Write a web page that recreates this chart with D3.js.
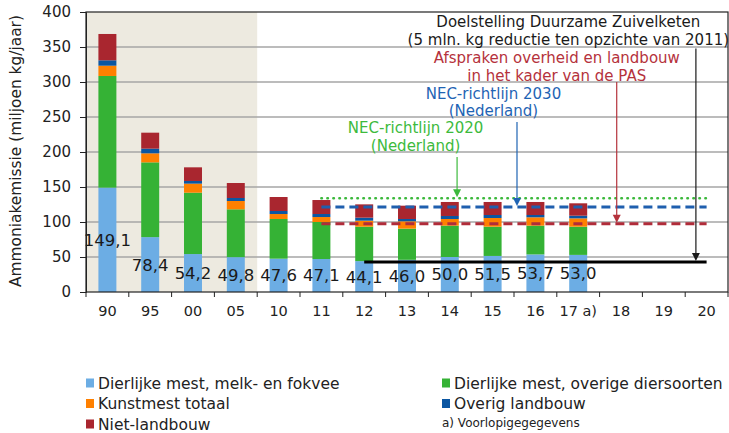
<!DOCTYPE html>
<html lang="nl">
<head>
<meta charset="UTF-8">
<title>Ammoniakemissie</title>
<script src="https://d3js.org/d3.v7.min.js"></script>
<style>
  body { margin: 0; background: #fff; }
  text { font-family: "DejaVu Sans", Verdana, sans-serif; }
  .tick text { fill: #222; }
  .vlabel { font-size: 16.5px; fill: #1a1a1a; text-anchor: middle; }
  .note { font-size: 15px; text-anchor: middle; }
  .legend text { font-size: 15.5px; fill: #222; }
</style>
</head>
<body>
<svg width="729" height="433"></svg>
<script>
const years = ["90", "95", "00", "05", "10", "11", "12", "13", "14", "15", "16", "17 a)", "18", "19", "20"];
const melkFokvee = [149.1, 78.4, 54.2, 49.8, 47.6, 47.1, 44.1, 46.0, 50.0, 51.5, 53.7, 53.0];
const overigeDieren = [159.5, 106.8, 87.7, 68.3, 56.7, 52.9, 49.2, 44.5, 44.8, 41.8, 41.1, 40.3];
const kunstmest = [14.7, 12.9, 12.9, 11.9, 7.1, 7.1, 8.6, 10.5, 9.5, 12.4, 11.9, 11.9];
const overigLandbouw = [7.7, 6.7, 3.8, 4.3, 4.3, 4.3, 4.3, 3.3, 4.3, 4.3, 3.3, 3.8];
const nietLandbouw = [37.6, 22.8, 19.5, 21.4, 20.0, 20.0, 19.0, 19.0, 20.0, 18.6, 18.6, 17.7];

const seriesNames = ["Dierlijke mest, melk- en fokvee", "Dierlijke mest, overige diersoorten",
  "Kunstmest totaal", "Overig landbouw", "Niet-landbouw"];
const seriesColors = ["#6cade4", "#35b235", "#ff8000", "#0b56a2", "#a9262f"];
const yTicks = [0, 50, 100, 150, 200, 250, 300, 350, 400];

// streefwaarden: waarde, van jaar, tot jaar
const targets = [
  { name: "NEC 2020", value: 134, from: "11", to: "20", color: "#3cb83c", dash: "0.5,5.5", cap: "round", w: 2.6 },
  { name: "NEC 2030", value: 121.5, from: "11", to: "20", color: "#1f5fae", dash: "9,5", cap: "butt", w: 3 },
  { name: "PAS", value: 97.5, from: "11", to: "20", color: "#b02c3a", dash: "9,5", cap: "butt", w: 3 },
  { name: "Zuivelketen", value: 43, from: "12", to: "20", color: "#000", dash: null, cap: "butt", w: 3 }
];

const width = 729, height = 433;
const m = { left: 86, right: 1, top: 12, bottom: 141 };
const pw = width - m.left - m.right, ph = height - m.top - m.bottom;
const svg = d3.select("svg");
const g = svg.append("g").attr("transform", `translate(${m.left},${m.top})`);

const x = d3.scaleBand().domain(years).range([0, pw]).paddingInner(0.58).paddingOuter(0.29);
const xi = d3.scaleLinear().domain([0, years.length]).range([0, pw]);
const y = d3.scaleLinear().domain([0, 400]).range([ph, 0]);

// gearceerde periode
g.append("rect").attr("x", xi(0)).attr("y", 0).attr("width", xi(4) - xi(0)).attr("height", ph)
  .attr("fill", "#edeae0");

// rasterlijnen
g.selectAll(".grid").data(yTicks.slice(1, -1)).enter().append("line")
  .attr("x1", 0).attr("x2", pw).attr("y1", d => y(d)).attr("y2", d => y(d))
  .attr("stroke", "#a6a6a6").attr("stroke-width", 1.3);

// gestapelde staven
const rows = melkFokvee.map((v, i) => ({
  year: years[i], s0: v, s1: overigeDieren[i], s2: kunstmest[i], s3: overigLandbouw[i], s4: nietLandbouw[i]
}));
const stack = d3.stack().keys(["s0", "s1", "s2", "s3", "s4"])(rows);
stack.forEach((layer, k) => {
  g.selectAll(".b" + k).data(layer).enter().append("rect")
    .attr("x", d => x(d.data.year)).attr("width", x.bandwidth())
    .attr("y", d => y(d[1])).attr("height", d => y(d[0]) - y(d[1]))
    .attr("fill", seriesColors[k]);
});

// streeflijnen
targets.forEach(t => {
  g.append("line")
    .attr("x1", x(t.from) + x.bandwidth() / 2).attr("x2", x(t.to) + x.bandwidth() / 2)
    .attr("y1", y(t.value)).attr("y2", y(t.value))
    .attr("stroke", t.color).attr("stroke-width", t.w)
    .attr("stroke-dasharray", t.dash).attr("stroke-linecap", t.cap);
});

// waardelabels melk- en fokvee
g.selectAll(".vlabel").data(rows).enter().append("text").attr("class", "vlabel")
  .attr("x", d => x(d.year) + x.bandwidth() / 2).attr("y", d => y(d.s0 / 2))
  .attr("dy", "0.36em").text(d => d.s0.toFixed(1).replace(".", ","));

// kader
g.append("rect").attr("x", 0).attr("y", 0).attr("width", pw).attr("height", ph)
  .attr("fill", "none").attr("stroke", "#222").attr("stroke-width", 1.2);

// assen
const ya = g.append("g").call(d3.axisLeft(y).tickValues(yTicks).tickSize(6).tickPadding(9));
ya.selectAll("text").style("font-family", "DejaVu Sans, Verdana, sans-serif").style("font-size", "15px");
ya.select(".domain").attr("stroke", "#222");
ya.selectAll(".tick line").attr("stroke", "#222");

const xa = g.append("g").attr("transform", `translate(0,${ph})`)
  .call(d3.axisBottom(x).tickSize(0).tickPadding(14));
xa.select(".domain").remove();
xa.selectAll("text").style("font-family", "DejaVu Sans, Verdana, sans-serif").style("font-size", "14.5px");
g.selectAll(".xt").data(d3.range(years.length + 1)).enter().append("line")
  .attr("x1", d => xi(d)).attr("x2", d => xi(d)).attr("y1", ph).attr("y2", ph + 5)
  .attr("stroke", "#222");

svg.append("text").attr("transform", `translate(16,${m.top + ph / 2 - 1}) rotate(-90)`)
  .attr("text-anchor", "middle").attr("dy", "0.35em")
  .style("font-size", "15.4px").style("fill", "#222")
  .text("Ammoniakemissie (miljoen kg/jaar)");

// annotaties met pijlen
const notes = [
  { lines: ["Doelstelling  Duurzame Zuivelketen", "(5 mln. kg reductie ten opzichte van 2011)"],
    color: "#1a1a1a", tx: 11.27, ty: [386, 360], ax: 14.25, from: 348, to: 43 },
  { lines: ["Afspraken overheid en landbouw", "in het kader van de PAS"],
    color: "#b5323c", tx: 11.0, ty: [335, 309], ax: 12.4, from: 300, to: 97.5 },
  { lines: ["NEC-richtlijn 2030", "(Nederland)"],
    color: "#1f64b4", tx: 9.52, ty: [283, 258.5], ax: 10.07, from: 243, to: 121.5 },
  { lines: ["NEC-richtlijn 2020", "(Nederland)"],
    color: "#3dba3d", tx: 7.7, ty: [234.5, 208.5], ax: 8.67, from: 193, to: 134 }
];
notes.forEach(n => {
  n.lines.forEach((l, i) => {
    g.append("text").attr("class", "note").attr("x", xi(n.tx)).attr("y", y(n.ty[i]))
      .attr("dy", "0.36em").style("fill", n.color).text(l);
  });
  const ax = xi(n.ax), tip = y(n.to) - 1;
  g.append("line").attr("x1", ax).attr("x2", ax).attr("y1", y(n.from)).attr("y2", tip - 6)
    .attr("stroke", n.color).attr("stroke-width", 1.2);
  g.append("path").attr("d", `M${ax - 4},${tip - 8}L${ax + 4},${tip - 8}L${ax},${tip}Z`)
    .attr("fill", n.color);
});

// legenda
const legendItems = [
  { i: 0, x: 86, y: 383 }, { i: 1, x: 442, y: 383 },
  { i: 2, x: 86, y: 403.5 }, { i: 3, x: 442, y: 403.5 },
  { i: 4, x: 86, y: 424 }
];
const lg = svg.append("g").attr("class", "legend");
legendItems.forEach(d => {
  lg.append("rect").attr("x", d.x).attr("y", d.y - 4.5).attr("width", 8).attr("height", 9)
    .attr("fill", seriesColors[d.i]);
  lg.append("text").attr("x", d.x + 12).attr("y", d.y).attr("dy", "0.36em").text(seriesNames[d.i]);
});
lg.append("text").attr("x", 442).attr("y", 423).attr("dy", "0.36em").style("font-size", "12px")
  .text("a) Voorlopigegegevens");
</script>
</body>
</html>
